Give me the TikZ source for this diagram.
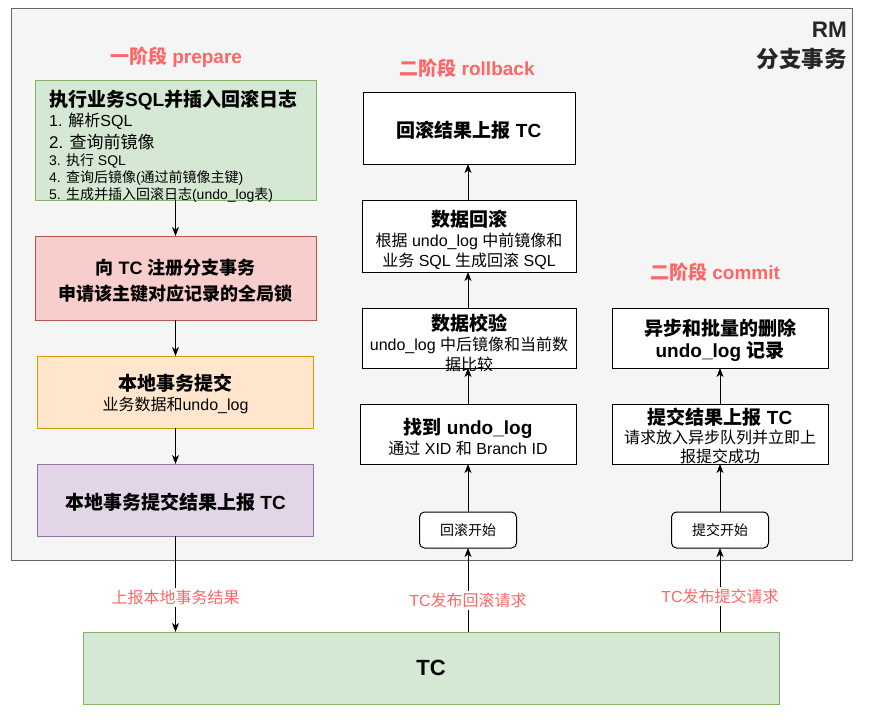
\documentclass[tikz,border=0pt]{standalone}
\usepackage{fontspec}
\setmainfont{Liberation Sans}
\newfontfamily\cjkfamily{Noto Sans CJK SC}
% switch to the CJK family for ideographs and back for Latin text
\XeTeXinterchartokenstate=1
\newXeTeXintercharclass\cjkcharclass
\makeatletter
\count@="3000
\loop\XeTeXcharclass\count@=\cjkcharclass\ifnum\count@<"303F \advance\count@ 1 \repeat
\count@="4E00
\loop\XeTeXcharclass\count@=\cjkcharclass\ifnum\count@<"9FFF \advance\count@ 1 \repeat
\count@="FF00
\loop\XeTeXcharclass\count@=\cjkcharclass\ifnum\count@<"FFEF \advance\count@ 1 \repeat
\makeatother
\XeTeXinterchartoks 0 \cjkcharclass = {\cjkfamily}
\XeTeXinterchartoks 4095 \cjkcharclass = {\cjkfamily}
\XeTeXinterchartoks \cjkcharclass 0 = {\rmfamily}
\XeTeXinterchartoks \cjkcharclass 4095 = {\rmfamily}
\usetikzlibrary{arrows.meta}
\definecolor{phasered}{HTML}{FF6666}
\definecolor{rmfill}{HTML}{F5F5F5}
\definecolor{rmline}{HTML}{666666}
\definecolor{greenfill}{HTML}{D5E8D4}
\definecolor{greenline}{HTML}{82B366}
\definecolor{redfill}{HTML}{F8CECC}
\definecolor{redline}{HTML}{B85450}
\definecolor{orangefill}{HTML}{FFE6CC}
\definecolor{orangeline}{HTML}{D79B00}
\definecolor{purplefill}{HTML}{E1D5E7}
\definecolor{purpleline}{HTML}{9673A6}
\newcommand\boxtitle[1]{{\fontsize{19}{22}\selectfont\bfseries #1}}
\begin{document}
\begin{tikzpicture}[x=1pt,y=-1pt,
  shape box/.style={draw, line width=1pt, inner sep=0pt, outer sep=0pt},
  plainbox/.style={shape box, fill=white, draw=black},
  startbox/.style={shape box, fill=white, draw=black, rounded corners=5pt,
    minimum width=97pt, minimum height=36pt,
    font=\fontsize{14}{17}\selectfont},
  boxtext/.style={inner sep=0pt, align=center, font=\fontsize{16}{20}\selectfont},
  phase/.style={text=phasered, font=\fontsize{19}{22}\selectfont\bfseries},
  arr/.style={draw=black, line width=1pt, -{Stealth[length=9pt,width=7pt,inset=2.5pt]}},
  flowlabel/.style={fill=white, text=phasered, inner sep=2pt,
    font=\fontsize{16}{20}\selectfont}]
\useasboundingbox (0,0) rectangle (870,720);
\fill[white] (0,0) rectangle (870,720);

% RM container
\node[shape box, fill=rmfill, draw=rmline, minimum width=841pt, minimum height=552pt]
  (rm) at (431.5,284) {};
\node[anchor=north east, align=right, inner sep=0pt,
  font=\fontsize{22.5}{30}\selectfont\bfseries, text=black!85] (rm-title) at (847,22)
  {RM\\分支事务};

% phase one: prepare
\node[phase] (ph1) at (176,57) {一阶段 prepare};

\node[shape box, fill=greenfill, draw=greenline, minimum width=281pt, minimum height=120pt]
  (exec) at (175.5,140) {};
\node[anchor=north west, align=left, inner sep=0pt, font=\fontsize{14}{17}\selectfont]
  (exec-txt) at (49,90)
  {\boxtitle{执行业务SQL并插入回滚日志}\\[2pt]
   {\fontsize{16}{17}\selectfont 1. 解析SQL}\\[3pt]
   {\fontsize{17}{17}\selectfont 2. 查询前镜像}\\
   3. 执行 SQL\\
   4. 查询后镜像(通过前镜像主键)\\
   5. 生成并插入回滚日志(undo\_log表)};

\node[shape box, fill=redfill, draw=redline, minimum width=281pt, minimum height=84pt]
  (reg) at (175.5,278) {};
\node[boxtext, font=\fontsize{18}{26}\selectfont\bfseries] (reg-txt) at (175.5,281)
  {向 TC 注册分支事务\\申请该主键对应记录的全局锁};

\node[shape box, fill=orangefill, draw=orangeline, minimum width=276pt, minimum height=72pt]
  (local) at (175.5,392) {};
\node[boxtext] (local-txt) at (175.5,394) {\boxtitle{本地事务提交}\\业务数据和undo\_log};

\node[shape box, fill=purplefill, draw=purpleline, minimum width=276pt, minimum height=72pt]
  (report) at (175.5,500) {};
\node[boxtext] (report-txt) at (175.5,502) {\boxtitle{本地事务提交结果上报 TC}};

% phase two: rollback
\node[phase] (ph2r) at (467,68) {二阶段 rollback};

\node[plainbox, minimum width=212pt, minimum height=72pt] (rb-report) at (469,128) {};
\node[boxtext] (rb-report-txt) at (469,130) {\boxtitle{回滚结果上报 TC}};

\node[plainbox, minimum width=214pt, minimum height=72pt] (rb-undo) at (469,236) {};
\node[boxtext] (rb-undo-txt) at (469,240)
  {\boxtitle{数据回滚}\\根据 undo\_log 中前镜像和\\业务 SQL 生成回滚 SQL};

\node[plainbox, minimum width=214pt, minimum height=60pt] (rb-check) at (469,338) {};
\node[boxtext] (rb-check-txt) at (469,343)
  {\boxtitle{数据校验}\\undo\_log 中后镜像和当前数\\据比较};

\node[plainbox, minimum width=216pt, minimum height=60pt] (rb-find) at (468,434) {};
\node[boxtext] (rb-find-txt) at (468,437)
  {\boxtitle{找到 undo\_log}\\通过 XID 和 Branch ID};

\node[startbox] (rb-start) at (468,530) {回滚开始};

% phase two: commit
\node[phase] (ph2c) at (715,272) {二阶段 commit};

\node[plainbox, minimum width=216pt, minimum height=60pt] (cm-delete) at (720,338) {};
\node[boxtext, font=\fontsize{19}{22}\selectfont\bfseries] (cm-delete-txt) at (720,340)
  {异步和批量的删除\\undo\_log 记录};

\node[plainbox, minimum width=216pt, minimum height=60pt] (cm-report) at (720,434) {};
\node[boxtext, font=\fontsize{16}{19}\selectfont] (cm-report-txt) at (720,436)
  {\boxtitle{提交结果上报 TC}\\请求放入异步队列并立即上\\报提交成功};

\node[startbox] (cm-start) at (720,530) {提交开始};

% TC
\node[shape box, fill=greenfill, draw=greenline, minimum width=696pt, minimum height=72pt,
  font=\fontsize{22}{26}\selectfont\bfseries] (tc) at (431,668) {TC};

% phase one flow
\draw[arr] (exec.south) -- (reg.north);
\draw[arr] (reg.south) -- (local.north);
\draw[arr] (local.south) -- (report.north);
\draw[arr] (report.south) -- (report.south |- tc.north)
  node[flowlabel, pos=0.64] (lbl-report) {上报本地事务结果};

% rollback flow
\draw[arr] (rb-start.south |- tc.north) -- (rb-start.south)
  node[flowlabel, pos=0.38] (lbl-rb) {TC发布回滚请求};
\draw[arr] (rb-start.north) -- (rb-start.north |- rb-find.south);
\draw[arr] (rb-start.north |- rb-find.north) -- (rb-start.north |- rb-check.south);
\draw[arr] (rb-start.north |- rb-check.north) -- (rb-start.north |- rb-undo.south);
\draw[arr] (rb-start.north |- rb-undo.north) -- (rb-start.north |- rb-report.south);

% commit flow
\draw[arr] (cm-start.south |- tc.north) -- (cm-start.south)
  node[flowlabel, pos=0.42] (lbl-cm) {TC发布提交请求};
\draw[arr] (cm-start.north) -- (cm-report.south);
\draw[arr] (cm-report.north) -- (cm-delete.south);
\end{tikzpicture}
\end{document}
